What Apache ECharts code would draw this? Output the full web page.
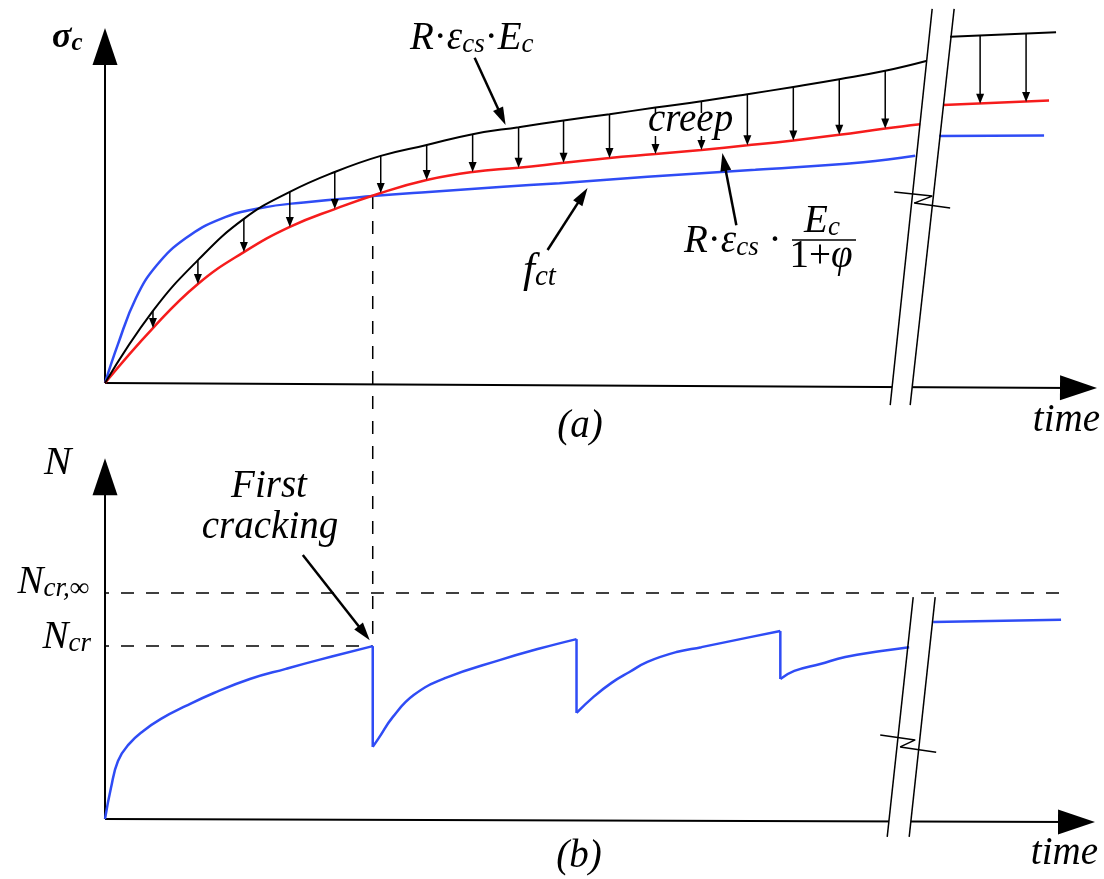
<!DOCTYPE html>
<html><head><meta charset="utf-8">
<script src="https://cdn.jsdelivr.net/npm/echarts@6/dist/echarts.min.js"></script>
<style>html,body{margin:0;padding:0;background:#fff}#c{width:1104px;height:879px}</style>
</head><body><div id="c"></div>
<script>
// ================= DATA =================
// panel (a): time t (0..100), stress sigma (0..100)
const tArrows   = [4.8, 9.3, 13.9, 18.5, 23.0, 27.6, 32.2, 36.8, 41.4, 45.9, 50.5, 55.1, 59.7, 64.3, 68.9, 73.5, 78.1];
const shrinkSig = [20.6, 35.1, 46.9, 54.6, 60.3, 64.9, 68.0, 71.1, 73.1, 75.0, 76.8, 78.7, 80.5, 82.5, 84.6, 86.8, 89.2]; // R·εcs·Ec
const creepSig  = [15.7, 28.3, 37.4, 44.6, 49.7, 54.3, 58.0, 60.3, 61.5, 62.9, 64.3, 65.4, 66.6, 67.9, 69.3, 70.9, 72.7]; // R·εcs·Ec/(1+φ)
const shrinkEnd = [82.2, 92.0];
const creepEnd  = [81.6, 73.9];
const fctT = [0, 1.3, 3.1, 5.2, 8.1, 11.6, 15.6, 19.9, 26.8, 32.4, 39.5, 45.5, 54.3, 65.1, 75.9, 81.1];
const fctS = [0, 11.1, 24.3, 33.7, 41.4, 46.9, 50.0, 51.6, 53.4, 54.6, 56.0, 57.1, 58.9, 60.9, 63.1, 64.9];
// after the time break
const shrinkLate = [[84.6, 98.9], [95.2, 100.2]];
const creepLate  = [[83.9, 79.4], [94.5, 80.7]];
const fctLate    = [[83.5, 70.6], [94.0, 70.7]];
const lateArrowT   = [87.6, 92.2];
const lateArrowTop = [99.2, 99.7];
const lateArrowBot = [79.8, 80.3];
const crackT = 26.8, crackSig = 53.4;

// panel (b): time t, axial force N (0..100)
const nArc1T = [0, 0.6, 1.3, 2.4, 3.8, 5.6, 8.1, 10.9, 14.5, 18.1, 21.6, 26.8];
const nArc1  = [0, 8.9, 16.6, 21.4, 25.1, 28.6, 32.3, 36.0, 40.0, 42.9, 45.6, 49.4];
const nArc2T = [26.8, 27.4, 28.8, 30.9, 34.1, 39.5, 43.5, 47.2];
const nArc2  = [20.6, 23.1, 29.1, 35.4, 40.3, 45.4, 48.7, 51.4];
const nArc3T = [47.2, 48.9, 50.7, 52.5, 54.3, 57.2, 59.7, 63.6, 67.6];
const nArc3  = [30.3, 34.9, 38.9, 42.0, 44.9, 47.7, 49.1, 51.4, 53.7];
const nArc4T = [67.6, 69.0, 71.6, 74.1, 77.7, 80.5];
const nArc4  = [40.0, 42.3, 44.3, 46.3, 48.0, 49.1];
const nLate  = [[82.9, 56.3], [95.7, 56.9]];
const Ncr = 49.4, NcrInf = 64.6;

// axes and break geometry (data units)
const axesA = [[0, 0, 0, 101.4], [0, 0, 99.3, -1.43]];
const axesB = [[0, 0, 0, 103.1], [0, 0, 99.1, -0.86]];
const breakA = [[[78.6, -6.3], [82.8, 106.9]], [[80.6, -6.3], [85.0, 106.9]]];
const breakB = [[[78.3, -5.1], [80.9, 63.4]], [[80.5, -5.1], [83.1, 63.4]]];
const zigA = [[79.0, 54.6], [82.8, 53.4], [81.0, 51.4], [84.6, 50.0]];
const zigB = [[77.6, 24.0], [81.1, 22.6], [79.6, 20.6], [83.2, 19.1]];
// annotation arrows [x1,y1,x2,y2]
const annotA = [[37.0, 92.9, 40.1, 73.7], [44.3, 38.0, 48.3, 55.7], [63.2, 45.1, 61.8, 65.7]];
const annotB = [[19.8, 75.4, 26.5, 51.1]];

// ================= CHART =================
const F = 'Liberation Serif';
const BLUE = '#2f4cf5', RED = '#f61c1c';
const zip = (a, b) => a.map((v, i) => [v, b[i]]);

function arrowSeries(g, data, lw, headL, headW, z) {
  return {
    type: 'custom', xAxisIndex: g, yAxisIndex: g, z: z, clip: false, silent: true,
    data: data, encode: { x: [0, 2], y: [1, 3] },
    renderItem: function (params, api) {
      const a = api.coord([api.value(0), api.value(1)]);
      const b = api.coord([api.value(2), api.value(3)]);
      const dx = b[0] - a[0], dy = b[1] - a[1], len = Math.hypot(dx, dy);
      const ux = dx / len, uy = dy / len;
      const bx = b[0] - ux * headL, by = b[1] - uy * headL;
      const px = -uy * headW / 2, py = ux * headW / 2;
      return { type: 'group', children: [
        { type: 'line', shape: { x1: a[0], y1: a[1], x2: b[0] - ux * headL * 0.6, y2: b[1] - uy * headL * 0.6 },
          style: { stroke: '#000', lineWidth: lw } },
        { type: 'polygon', shape: { points: [[b[0], b[1]], [bx + px, by + py], [bx - px, by - py]] },
          style: { fill: '#000' } }
      ] };
    }
  };
}
function gapSeries(g, br, z) {
  const pts = [br[0][0], br[0][1], br[1][1], br[1][0]];
  return {
    type: 'custom', xAxisIndex: g, yAxisIndex: g, z: z, clip: false, silent: true,
    data: [pts[0]],
    renderItem: function (params, api) {
      return { type: 'polygon', shape: { points: pts.map(p => api.coord(p)) }, style: { fill: '#fff' } };
    }
  };
}
function lineS(g, data, color, width, smooth, z, type) {
  return { type: 'line', xAxisIndex: g, yAxisIndex: g, data: data, symbol: 'none', smooth: smooth,
    clip: false, silent: true, z: z, lineStyle: { color: color, width: width, type: type || 'solid' } };
}

const SM = 0.45;
const series = [];
// panel (a)
series.push(arrowSeries(0, axesA, 2, 37, 25, 2));
series.push(gapSeries(0, breakA, 3));
series.push(lineS(0, zip(fctT, fctS), BLUE, 2.5, SM, 4));
series.push(lineS(0, [[0, 0]].concat(zip(tArrows, creepSig), [creepEnd]), RED, 2.5, SM, 5));
series.push(lineS(0, [[0, 0]].concat(zip(tArrows, shrinkSig), [shrinkEnd]), '#000', 2, SM, 5));
series.push(lineS(0, fctLate, BLUE, 2.5, false, 4));
series.push(lineS(0, creepLate, RED, 2.5, false, 5));
series.push(lineS(0, shrinkLate, '#000', 2, false, 5));
series.push(arrowSeries(0, tArrows.map((t, i) => [t, shrinkSig[i], t, creepSig[i]]), 1.5, 10, 8, 6));
series.push(arrowSeries(0, lateArrowT.map((t, i) => [t, lateArrowTop[i], t, lateArrowBot[i]]), 1.5, 10, 8, 6));
breakA.forEach(l => series.push(lineS(0, l, '#000', 1.5, false, 7)));
series.push(lineS(0, zigA, '#000', 1.5, false, 7));
series.push(arrowSeries(0, annotA, 2.5, 18, 11, 8));
// panel (b)
series.push(arrowSeries(1, axesB, 2, 37, 25, 2));
series.push(gapSeries(1, breakB, 3));
series.push(lineS(1, [[-0.9, NcrInf], [95.8, NcrInf]], '#000', 1.5, false, 4, [13, 12]));
series.push(lineS(1, [[-0.9, Ncr], [crackT, Ncr]], '#000', 1.5, false, 4, [13, 12]));
const arcs = [zip(nArc1T, nArc1), zip(nArc2T, nArc2), zip(nArc3T, nArc3), zip(nArc4T, nArc4)];
arcs.forEach(a => series.push(lineS(1, a, BLUE, 2.5, SM, 5)));
for (let i = 0; i < arcs.length - 1; i++) {
  series.push(lineS(1, [arcs[i][arcs[i].length - 1], arcs[i + 1][0]], BLUE, 2.5, false, 5));
}
series.push(lineS(1, nLate, BLUE, 2.5, false, 5));
breakB.forEach(l => series.push(lineS(1, l, '#000', 1.5, false, 7)));
series.push(lineS(1, zigB, '#000', 1.5, false, 7));
series.push(arrowSeries(1, annotB, 2.5, 18, 11, 8));

const axisX = g => ({ type: 'value', gridIndex: g, min: 0, max: 100, show: false });
const chart = echarts.init(document.getElementById('c'));
chart.setOption({
  animation: false,
  backgroundColor: '#fff',
  grid: [{ left: 105, top: 33, width: 1000, height: 350 }, { left: 105, top: 469, width: 1000, height: 350 }],
  xAxis: [axisX(0), axisX(1)],
  yAxis: [axisX(0), axisX(1)],
  series: series
});

// ---------- text & connector ----------
function rich(size, sub, bold, drop) {
  const w = bold ? 'bold' : 'normal';
  return {
    m: { fontSize: size, lineHeight: 44, fontStyle: 'italic', fontWeight: w, fontFamily: F, fill: '#000', verticalAlign: 'bottom' },
    s: { fontSize: sub, lineHeight: drop || 30, fontStyle: 'italic', fontWeight: w, fontFamily: F, fill: '#000', verticalAlign: 'bottom' },
    u: { fontSize: size, lineHeight: 44, fontStyle: 'normal', fontWeight: w, fontFamily: F, fill: '#000', verticalAlign: 'bottom' }
  };
}
function txt(x, y, text, align, size, sub, bold, drop) {
  return { type: 'text', x: x, y: y, z: 100, silent: true,
    style: { text: text, rich: rich(size || 39, sub || 27, bold, drop), align: align || 'left', verticalAlign: 'middle',
      fontSize: size || 39, fontFamily: F, fontStyle: 'italic', fill: '#000' } };
}
const p1 = chart.convertToPixel({ gridIndex: 0 }, [crackT, crackSig]);
const p2 = chart.convertToPixel({ gridIndex: 1 }, [crackT, Ncr]);
chart.setOption({
  graphic: [
    { type: 'line', z: 4, silent: true, shape: { x1: p1[0], y1: p1[1], x2: p2[0], y2: p2[1] },
      style: { stroke: '#000', lineWidth: 1.5, lineDash: [13, 12] } },
    { type: 'rect', z: 90, silent: true, shape: { x: 647, y: 113, width: 95, height: 23 }, style: { fill: '#fff' } },
    txt(52, 34, '{m|σ}{s|c}', 'left', 36, 25, true),
    txt(410, 36, '{m|R}{u|·}{m|ε}{s|cs}{u|·}{m|E}{s|c}'),
    txt(648, 118, '{m|creep}'),
    txt(523, 270, '{m|f}{s|ct}', 'left', 43, 29),
    txt(684, 239, '{m|R}{u|·}{m|ε}{s|cs}{u| ·}'),
    txt(822, 219, '{m|E}{s|c}', 'center', 39, 27, false, 36),
    txt(821, 254, '{u|1+}{m|φ}', 'center'),
    { type: 'line', z: 100, silent: true, shape: { x1: 792, y1: 240, x2: 856, y2: 240 }, style: { stroke: '#000', lineWidth: 1.6 } },
    txt(580, 424, '{m|(a)}', 'center'),
    txt(1100, 418, '{m|time}', 'right'),
    txt(44, 462, '{m|N}', 'left', 41),
    txt(269, 484, '{m|First}', 'center'),
    txt(270, 525, '{m|cracking}', 'center'),
    txt(89, 580, '{m|N}{s|cr,∞}', 'right', 39, 27, false, 34),
    txt(91, 635, '{m|N}{s|cr}', 'right', 39, 27, false, 34),
    txt(579, 854, '{m|(b)}', 'center'),
    txt(1098, 851, '{m|time}', 'right')
  ]
});
</script></body></html>
